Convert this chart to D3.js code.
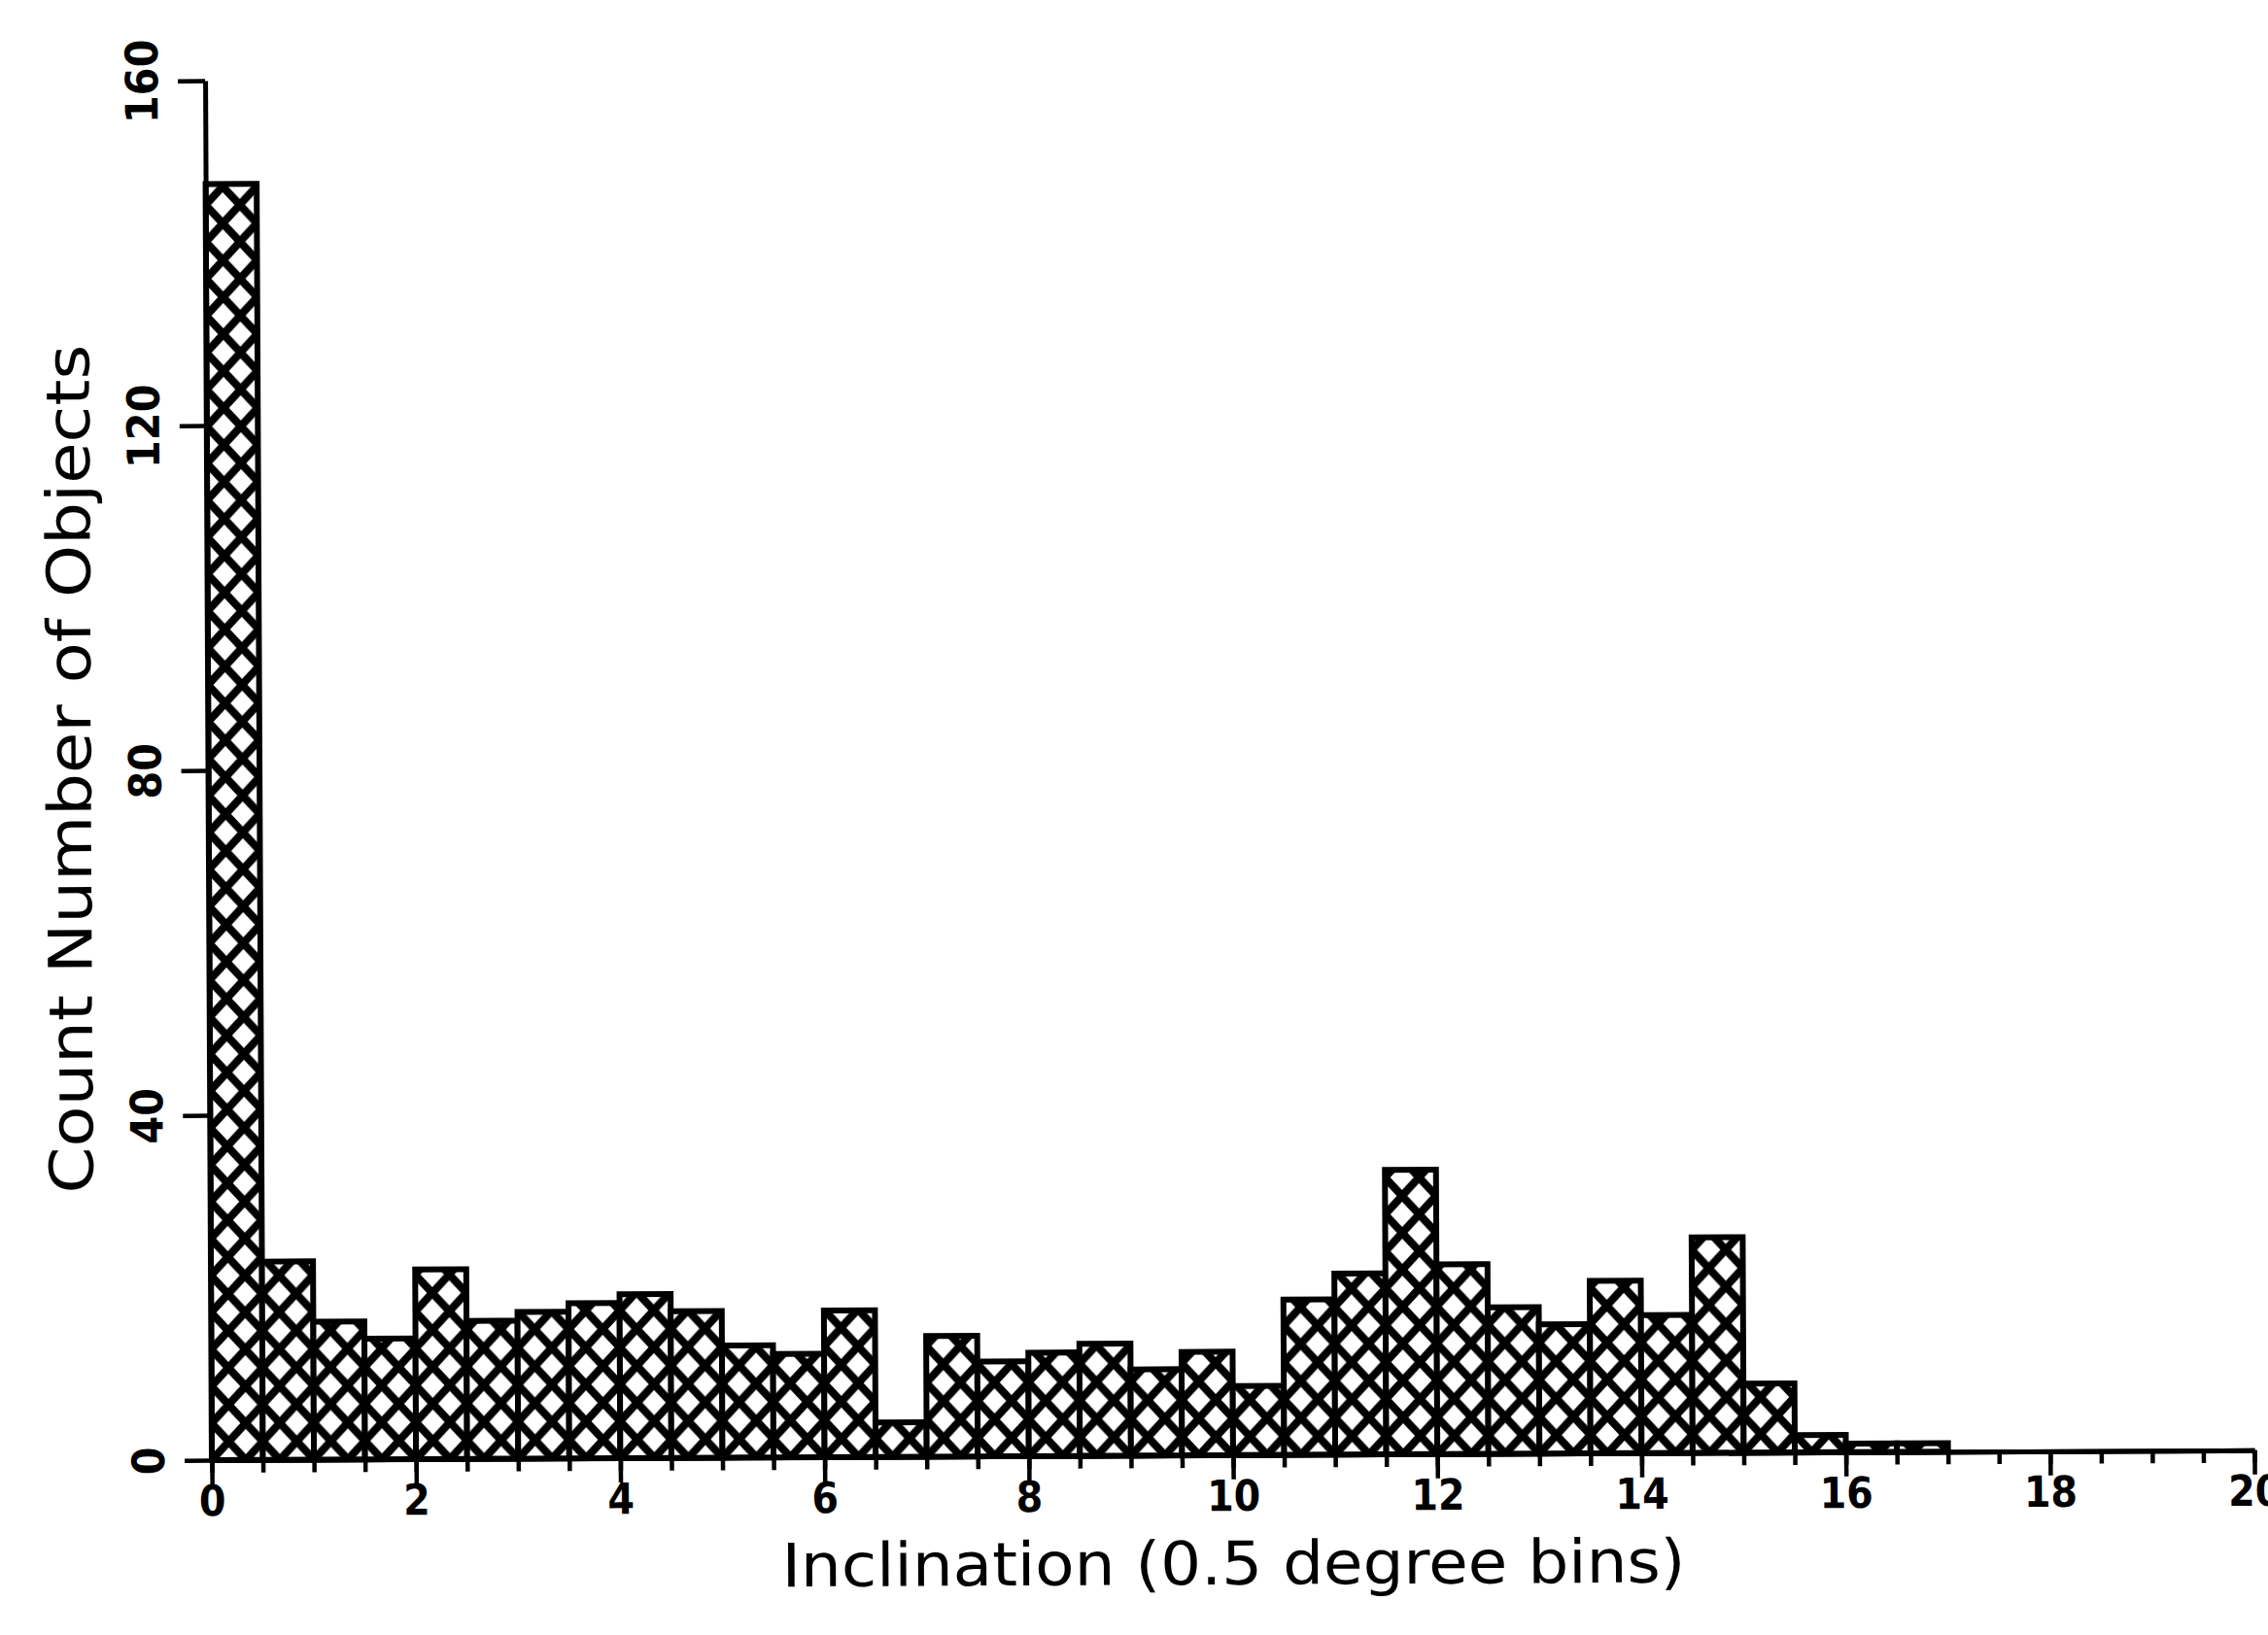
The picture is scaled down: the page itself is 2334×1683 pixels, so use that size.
<!DOCTYPE html>
<html>
<head>
<meta charset="utf-8">
<script src="https://cdn.jsdelivr.net/npm/d3@7"></script>
<style>
  body { margin: 0; background: #fff; }
  svg { display: block; }
</style>
</head>
<body>
<script>
// left edge of each 0.5 degree bin
const binStarts = [0, 0.5, 1, 1.5, 2, 2.5, 3, 3.5, 4, 4.5,
  5, 5.5, 6, 6.5, 7, 7.5, 8, 8.5, 9, 9.5,
  10, 10.5, 11, 11.5, 12, 12.5, 13, 13.5, 14, 14.5,
  15, 15.5, 16, 16.5, 17, 17.5, 18, 18.5, 19, 19.5];
const binWidth = 0.5;
// object count in each bin
const counts = [148, 23, 16, 14, 22, 16, 17, 18, 19, 17,
  13, 12, 17, 4, 14, 11, 12, 13, 10, 12,
  8, 18, 21, 33, 22, 17, 15, 20, 16, 25,
  8, 2, 1, 1, 0, 0, 0, 0, 0, 0];
const xMajorTicks = [0, 2, 4, 6, 8, 10, 12, 14, 16, 18, 20];
const xMinorTicks = binStarts.concat([20]);
const yTicks = [0, 40, 80, 120, 160];

const W = 2334, H = 1683;

const svg = d3.select("body").append("svg")
  .attr("width", W)
  .attr("height", H);

svg.append("rect").attr("width", W).attr("height", H).attr("fill", "#fff");

const x = d3.scaleLinear().domain([0, 20]).range([218, 2320]);
const y = d3.scaleLinear().domain([0, 160]).range([1503, 83]);

// crosshatch fill
const pw = (x(binWidth) - x(0)) * 2 / 3, ph = 38;
const pat = svg.append("defs").append("pattern")
  .attr("id", "xhatch")
  .attr("patternUnits", "userSpaceOnUse")
  .attr("x", x(0))
  .attr("y", y(0))
  .attr("width", pw)
  .attr("height", ph);
pat.append("rect").attr("width", pw).attr("height", ph).attr("fill", "#fff");
pat.append("path")
  .attr("d", `M${-pw},0L0,${ph}M0,0L${pw},${ph}M${pw},0L${2 * pw},${ph}` +
    `M0,0L${-pw},${ph}M${pw},0L0,${ph}M${2 * pw},0L${pw},${ph}`)
  .attr("stroke", "#000")
  .attr("stroke-width", 8)
  .attr("fill", "none");

// the scan is tilted a little
const g = svg.append("g")
  .attr("transform", `rotate(-0.28,${x(0)},${y(0)})`);

const bins = binStarts.map((b, i) => ({ x0: b, x1: b + binWidth, n: counts[i] }))
  .filter((d) => d.n > 0);

g.selectAll(".bar")
  .data(bins)
  .enter()
  .append("rect")
  .attr("class", "bar")
  .attr("x", (d) => x(d.x0))
  .attr("y", (d) => y(d.n))
  .attr("width", (d) => x(d.x1) - x(d.x0))
  .attr("height", (d) => y(0) - y(d.n))
  .attr("fill", "url(#xhatch)")
  .attr("stroke", "#000")
  .attr("stroke-width", 6);

// x axis: minor ticks every bin, long ticks with labels every 2
const xMinor = g.append("g")
  .attr("transform", `translate(0,${y(0)})`)
  .call(d3.axisBottom(x).tickValues(xMinorTicks).tickSize(13).tickSizeOuter(0).tickFormat(""));

const xMajor = g.append("g")
  .attr("transform", `translate(0,${y(0)})`)
  .call(d3.axisBottom(x).tickValues(xMajorTicks).tickSize(25).tickSizeOuter(0).tickPadding(1));

[xMinor, xMajor].forEach((ax) => {
  ax.select(".domain").attr("stroke", "#000").attr("stroke-width", 5);
  ax.selectAll(".tick line").attr("stroke", "#000").attr("stroke-width", 4.5);
});

xMajor.selectAll(".tick text")
  .attr("fill", "#000")
  .style("font-family", "'DejaVu Sans Condensed', 'DejaVu Sans', sans-serif")
  .style("font-weight", "bold")
  .style("font-size", "44px");

// y axis with rotated labels
const yAx = g.append("g")
  .attr("transform", `translate(${x(0)},0)`)
  .call(d3.axisLeft(y).tickValues(yTicks).tickSize(28).tickSizeOuter(0));

yAx.select(".domain").attr("stroke", "#000").attr("stroke-width", 5);
yAx.selectAll(".tick line").attr("stroke", "#000").attr("stroke-width", 4.5);
yAx.selectAll(".tick text")
  .attr("fill", "#000")
  .attr("transform", "rotate(-90)")
  .attr("x", 0)
  .attr("y", -49)
  .attr("dy", null)
  .attr("text-anchor", "middle")
  .style("font-family", "'DejaVu Sans Condensed', 'DejaVu Sans', sans-serif")
  .style("font-weight", "bold")
  .style("font-size", "46px");

// axis titles
g.append("text")
  .attr("x", (x(0) + x(20)) / 2)
  .attr("y", 1636)
  .attr("text-anchor", "middle")
  .attr("textLength", 930)
  .attr("lengthAdjust", "spacingAndGlyphs")
  .style("font-family", "'DejaVu Sans', sans-serif")
  .style("font-size", "62px")
  .text("Inclination (0.5 degree bins)");

g.append("text")
  .attr("transform", `translate(97,${791}) rotate(-90)`)
  .attr("text-anchor", "middle")
  .attr("textLength", 874)
  .attr("lengthAdjust", "spacingAndGlyphs")
  .style("font-family", "'DejaVu Sans', sans-serif")
  .style("font-size", "62px")
  .text("Count Number of Objects");
</script>
</body>
</html>
